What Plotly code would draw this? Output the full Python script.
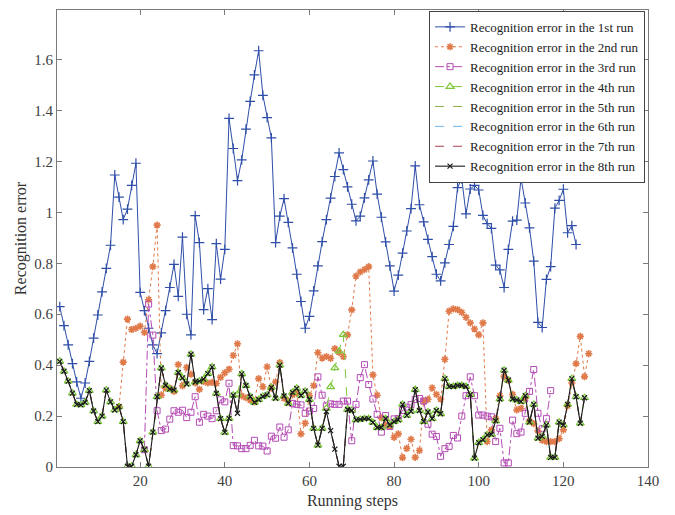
import plotly.graph_objects as go

# ---------------- data ----------------
run1_start = 1
run1 = [0.63, 0.555, 0.48, 0.406, 0.334, 0.27, 0.33, 0.415, 0.506, 0.597,
        0.688, 0.78, 0.871, 1.147, 1.06, 0.972, 1.013, 1.106, 1.193, 0.686,
        0.614, 0.545, 0.48, 0.445, 0.527, 0.614, 0.705, 0.796, 0.67, 0.903,
        0.6, 0.519, 0.987, 0.881, 0.618, 0.701, 0.579, 0.877, 0.738, 0.855,
        1.369, 1.251, 1.125, 1.206, 1.327, 1.436, 1.54, 1.635, 1.46, 1.372,
        1.293, 0.881, 0.985, 1.054, 0.961, 0.861, 0.757, 0.65, 0.545, 0.592,
        0.692, 0.79, 0.885, 0.972, 1.056, 1.141, 1.234, 1.168, 1.1, 1.032,
        0.967, 0.985, 1.057, 1.128, 1.202, 1.072, 0.981, 0.884, 0.79, 0.691,
        0.754, 0.84, 0.927, 1.015, 1.183, 1.03, 0.963, 0.894, 0.826, 0.757,
        0.731, 0.802, 0.874, 0.945, 1.097, 1.132, 0.994, 1.092, 1.106, 1.088,
        0.988, 0.956, 0.937, 0.793, 0.774, 0.705, 0.855, 0.966, 0.97, 1.134,
        1.037, 0.939, 0.809, 0.568, 0.548, 0.737, 0.787, 1.017, 1.047, 1.091,
        0.92, 0.948, 0.874]

run2_start = 15
run2 = [0.237, 0.412, 0.581, 0.54, 0.545, 0.553, 0.529, 0.657, 0.787, 0.95,
        0.282, 0.31, 0.31, 0.297, 0.402, 0.319, 0.391, 0.365, 0.33, 0.305,
        0.335, 0.33, 0.332, 0.328, 0.352, 0.37, 0.384, 0.438, 0.484, 0.279,
        0.272, 0.263, 0.256, 0.347, 0.315, 0.393, 0.31, 0.334, 0.41, 0.27,
        0.26, 0.283, 0.29, 0.13, 0.172, 0.28, 0.32, 0.449, 0.428, 0.434,
        0.427, 0.465, 0.45, 0.434, 0.519, 0.617, 0.75, 0.766, 0.775, 0.787,
        0.362, 0.282, 0.193, 0.166, 0.16, 0.116, 0.13, 0.037, 0.073, 0.109,
        0.038, 0.065, 0.258, 0.266, 0.311, 0.285, 0.267, 0.423, 0.612, 0.621,
        0.618, 0.607, 0.588, 0.566, 0.542, 0.519, 0.566, 0.1, 0.146, 0.19,
        0.28, 0.356, 0.34, 0.285, 0.224, 0.23, 0.27, 0.18, 0.17, 0.142,
        0.105, 0.1, 0.1, 0.1, 0.111, 0.146, 0.24, 0.33, 0.406, 0.513,
        0.355, 0.445]

run3_start = 21
run3 = [0.068, 0.64, 0.518, 0.221, 0.143, 0.149, 0.188, 0.221, 0.215, 0.223,
        0.194, 0.215, 0.276, 0.176, 0.207, 0.2, 0.19, 0.221, 0.264, 0.256,
        0.329, 0.084, 0.083, 0.072, 0.072, 0.085, 0.105, 0.083, 0.082, 0.063,
        0.121, 0.113, 0.157, 0.117, 0.146, 0.25, 0.246, 0.244, 0.211, 0.22,
        0.23, 0.354, 0.282, 0.24, 0.248, 0.246, 0.246, 0.259, 0.259, 0.103,
        0.246, 0.351, 0.402, 0.324, 0.267, 0.207, 0.137, 0.202, 0.159, 0.189,
        0.19, 0.222, 0.235, 0.245, 0.265, 0.269, 0.259, 0.168, 0.129, 0.12,
        0.042, 0.072, 0.081, 0.124, 0.114, 0.2, 0.28, 0.354, 0.28, 0.204,
        0.204, 0.2, 0.197, 0.1, 0.152, 0.016, 0.016, 0.184, 0.131, 0.137,
        0.211, 0.297, 0.383, 0.211, 0.15, 0.19, 0.3]

run8_start = 1
run8 = [0.415, 0.376, 0.337, 0.29, 0.246, 0.244, 0.254, 0.3, 0.22, 0.178,
        0.2, 0.302, 0.256, 0.224, 0.237, 0.178, 0.003, 0.003, 0.048, 0.103,
        0.068, 0.003, 0.137, 0.276, 0.389, 0.321, 0.306, 0.302, 0.371, 0.35,
        0.326, 0.443, 0.334, 0.337, 0.345, 0.367, 0.393, 0.289, 0.19, 0.136,
        0.191, 0.282, 0.211, 0.366, 0.32, 0.276, 0.254, 0.265, 0.277, 0.283,
        0.313, 0.27, 0.4, 0.279, 0.25, 0.293, 0.309, 0.281, 0.298, 0.265,
        0.152, 0.086, 0.152, 0.218, 0.143, 0.07, 0.003, 0.003, 0.226, 0.222,
        0.185, 0.187, 0.19, 0.19, 0.175, 0.155, 0.155, 0.19, 0.165, 0.178,
        0.185, 0.246, 0.203, 0.219, 0.304, 0.222, 0.178, 0.216, 0.19, 0.222,
        0.209, 0.347, 0.316, 0.316, 0.32, 0.32, 0.316, 0.284, 0.035, 0.096,
        0.107, 0.126, 0.128, 0.181, 0.267, 0.38, 0.341, 0.267, 0.263, 0.257,
        0.28, 0.176, 0.246, 0.113, 0.12, 0.165, 0.038, 0.038, 0.176, 0.165,
        0.246, 0.347, 0.276, 0.172, 0.272]

run4_start = 1
run4 = list(run8)
run4_diffs = {43: 0.285, 64: 0.23, 65: 0.315, 66: 0.389, 67: 0.455, 68: 0.52}
for step, val in run4_diffs.items():
    run4[step - run4_start] = val

run5 = list(run8)
run6 = list(run8)
run7 = list(run8)

names = ["Recognition error in the 1st run", "Recognition error in the 2nd run",
         "Recognition error in the 3rd run", "Recognition error in the 4th run",
         "Recognition error in the 5th run", "Recognition error in the 6th run",
         "Recognition error in the 7th run", "Recognition error in the 8th run"]

x_ticks = [20, 40, 60, 80, 100, 120, 140]
y_ticks = [0, 0.2, 0.4, 0.6, 0.8, 1.0, 1.2, 1.4, 1.6]
y_ticktext = ["0", "0.2", "0.4", "0.6", "0.8", "1", "1.2", "1.4", "1.6"]


def steps(start, vals):
    return list(range(start, start + len(vals)))


FONT = "Liberation Serif"

series = [
    (run1, run1_start, dict(color="#2E4EA8", width=1, dash="solid"),
     dict(symbol="cross-thin-open", size=7, line=dict(color="#2E4EA8", width=1.2))),
    (run2, run2_start, dict(color="#E07A4A", width=1, dash="dot"),
     dict(symbol="asterisk-open", size=6, line=dict(color="#D95319", width=1.6))),
    (run3, run3_start, dict(color="#B44CB4", width=1, dash="dashdot"),
     dict(symbol="square-open", size=6, line=dict(color="#B44CB4", width=1))),
    (run4, run4_start, dict(color="#7CC83A", width=1, dash="dash"),
     dict(symbol="triangle-up-open", size=7, line=dict(color="#7CC83A", width=1.2))),
    (run5, run8_start, dict(color="#8AB04A", width=1, dash="dash"), None),
    (run6, run8_start, dict(color="#6FB6E8", width=1, dash="dash"), None),
    (run7, run8_start, dict(color="#A8404F", width=1, dash="dash"), None),
    (run8, run8_start, dict(color="#1A1A1A", width=1.1, dash="solid"),
     dict(symbol="x-thin-open", size=5, line=dict(color="#1A1A1A", width=1.2))),
]

fig = go.Figure()
for (vals, start, line, marker), name in zip(series, names):
    kw = dict(x=steps(start, vals), y=vals, name=name, line=line)
    if marker is None:
        kw["mode"] = "lines"
    else:
        kw["mode"] = "lines+markers"
        kw["marker"] = marker
    fig.add_trace(go.Scatter(**kw))

axis_common = dict(
    showline=True, linecolor="#7a7a7a", linewidth=1, mirror="ticks",
    ticks="inside", ticklen=5, tickcolor="#7a7a7a", tickwidth=1,
    showgrid=False, zeroline=False,
    tickfont=dict(family=FONT, size=15, color="#404040"),
)

fig.update_layout(
    width=675, height=515,
    margin=dict(l=57, r=27, t=9, b=46),
    paper_bgcolor="white", plot_bgcolor="white",
    font=dict(family=FONT, color="#333333"),
    xaxis=dict(range=[0.35, 140], tickvals=x_ticks,
               title=dict(text="Running steps", font=dict(family=FONT, size=16, color="#333333"),
                          standoff=6),
               **axis_common),
    yaxis=dict(range=[0, 1.795], tickvals=y_ticks, ticktext=y_ticktext,
               title=dict(text="Recognition error", font=dict(family=FONT, size=16, color="#333333"),
                          standoff=3),
               **axis_common),
    legend=dict(x=0.995, y=0.998, xanchor="right", yanchor="top",
                bgcolor="white", bordercolor="#444444", borderwidth=1,
                font=dict(family=FONT, size=13, color="#222222"),
                tracegroupgap=0, itemwidth=30),
    showlegend=True,
)

fig.write_html("out.html")
